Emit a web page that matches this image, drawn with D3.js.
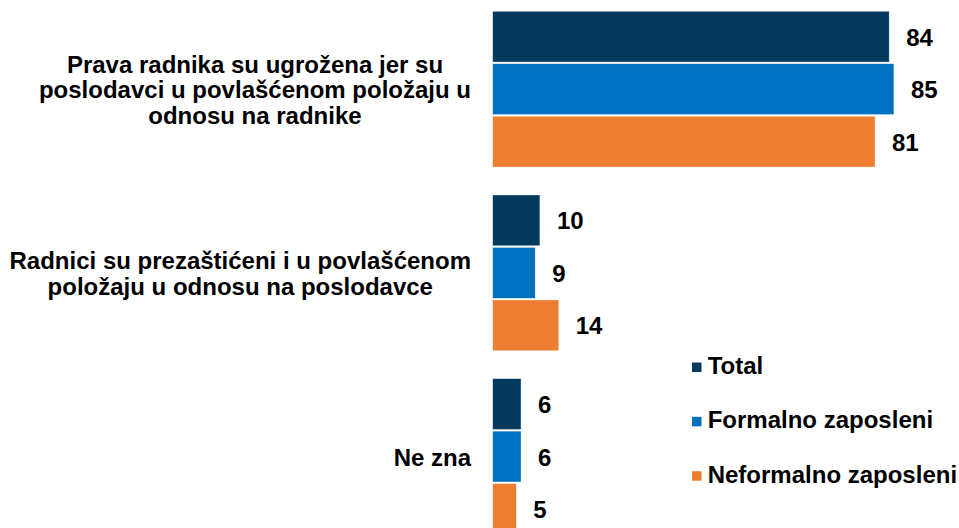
<!DOCTYPE html>
<html>
<head>
<meta charset="utf-8">
<script src="https://cdn.jsdelivr.net/npm/d3@7"></script>
<style>
  html, body { margin: 0; padding: 0; background: #fff; }
  svg { display: block; font-family: "Liberation Sans", Arial, sans-serif; font-weight: bold; }
</style>
</head>
<body>
<svg id="chart" width="959" height="528"></svg>
<script>
// ---- data ----
const categories = [
  "Prava radnika su ugrožena jer su poslodavci u povlašćenom položaju u odnosu na radnike",
  "Radnici su prezaštićeni i u povlašćenom položaju u odnosu na poslodavce",
  "Ne zna"
];
const categoryLines = [
  ["Prava radnika su ugrožena jer su", "poslodavci u povlašćenom položaju u", "odnosu na radnike"],
  ["Radnici su prezaštićeni i u povlašćenom", "položaju u odnosu na poslodavce"],
  ["Ne zna"]
];
const seriesNames = ["Total", "Formalno zaposleni", "Neformalno zaposleni"];
const totalValues = [84, 10, 6];
const formalValues = [85, 9, 6];
const informalValues = [81, 14, 5];
const seriesColors = ["#033a5e", "#0070c0", "#ed7d31"];

const seriesValues = [totalValues, formalValues, informalValues];

// ---- layout ----
const W = 959, H = 528;
const svg = d3.select("#chart");
const x0 = 492.7;

const x = d3.scaleLinear().domain([0, 100]).range([x0, x0 + 472]);
const y = d3.scaleBand().domain(categories).range([-2.7, 548.4]).paddingInner(0.152).paddingOuter(0.076);
const ySub = d3.scaleBand().domain(seriesNames).range([0, y.bandwidth()]).paddingInner(0.032);
const color = d3.scaleOrdinal().domain(seriesNames).range(seriesColors);

// bars
const groups = svg.append("g").selectAll("g")
  .data(categories)
  .join("g")
  .attr("transform", c => `translate(0,${y(c)})`);

const barData = (c, ci) => seriesNames.map((s, si) => ({ s, v: seriesValues[si][ci] }));

groups.each(function (c, ci) {
  const g = d3.select(this);
  const d = barData(c, ci);
  g.selectAll("rect").data(d).join("rect")
    .attr("x", x(0))
    .attr("y", e => ySub(e.s))
    .attr("width", e => x(e.v) - x(0))
    .attr("height", ySub.bandwidth())
    .attr("fill", e => color(e.s))
    .attr("stroke", "#ffffff")
    .attr("stroke-opacity", 0.6)
    .attr("stroke-width", 0.6);
  g.selectAll("text.val").data(d).join("text")
    .attr("class", "val")
    .attr("x", e => x(e.v) + 17)
    .attr("y", e => ySub(e.s) + ySub.bandwidth() / 2 + 9)
    .attr("font-size", 24)
    .attr("fill", "#000")
    .text(e => e.v);
});

// category axis
const axis = d3.axisLeft(y).tickSize(0).tickPadding(0);
const axisG = svg.append("g").attr("transform", `translate(${x0},0)`).call(axis);
axisG.select(".domain").remove();
axisG.selectAll(".tick text").each(function (c) {
  const t = d3.select(this);
  const lines = categoryLines[categories.indexOf(c)];
  t.text(null).attr("dy", null).attr("font-size", 24).attr("font-family", null)
    .attr("fill", "#000").attr("text-anchor", "middle");
  const spans = lines.map((ln, i) =>
    t.append("tspan").attr("y", 9 + (i - (lines.length - 1) / 2) * 25.5).text(ln));
  let maxW = 0;
  spans.forEach(s => { maxW = Math.max(maxW, s.node().getComputedTextLength()); });
  const cx = -(x0 - 471) - maxW / 2;
  spans.forEach(s => s.attr("x", cx));
});

// legend
const legendY = d3.scalePoint().domain(seriesNames).range([374, 482.7]);
const legend = svg.append("g").selectAll("g").data(seriesNames).join("g")
  .attr("transform", s => `translate(692,${legendY(s)})`);
legend.append("rect")
  .attr("x", 0).attr("y", -11.5).attr("width", 9.5).attr("height", 9.5)
  .attr("fill", s => color(s));
legend.append("text")
  .attr("x", 15.7).attr("y", 0)
  .attr("font-size", 24).attr("fill", "#000")
  .text(s => s);
</script>
</body>
</html>
